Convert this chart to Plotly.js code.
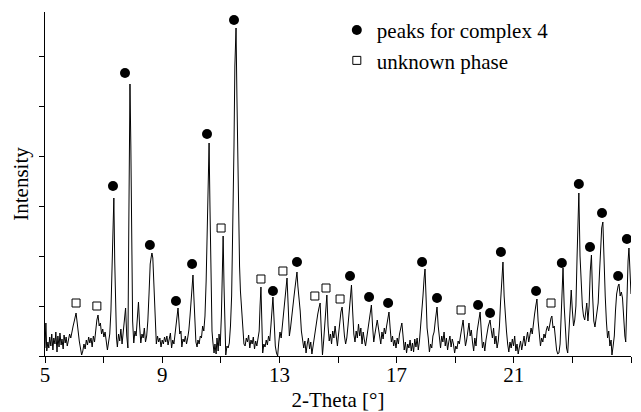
<!DOCTYPE html>
<html>
<head>
<meta charset="utf-8">
<script src="https://cdn.plot.ly/plotly-3.0.1.min.js"></script>
<style>html,body{margin:0;padding:0;background:#fff;}#chart{width:641px;height:412px;}</style>
</head>
<body>
<div id="chart"></div>
<script>
// XRD pattern (2-Theta in degrees, intensity in arbitrary units)
const twoTheta = [
5.00,5.03,5.06,5.10,5.13,5.16,5.20,5.23,5.27,5.30,5.34,5.37,5.41,5.44,5.48,5.51,5.55,5.58,5.62,5.65,5.69,5.72,5.76,5.80,5.84,5.88,5.92,5.96,
6.00,6.03,6.06,6.10,6.13,6.17,6.21,6.25,6.29,6.33,6.37,6.41,6.45,6.49,6.53,6.57,6.61,6.65,6.69,6.73,6.77,6.81,6.85,6.89,6.93,6.97,
7.01,7.05,7.09,7.13,7.17,7.21,7.25,7.29,7.32,7.35,7.38,7.41,7.44,7.47,7.51,7.55,7.59,7.63,7.67,7.71,7.75,7.79,7.83,7.86,7.90,7.93,7.96,7.99,
8.03,8.07,8.11,8.15,8.19,8.23,8.27,8.31,8.35,8.39,8.43,8.47,8.51,8.55,8.59,8.63,8.65,8.68,8.72,8.76,8.80,8.84,8.88,8.92,8.96,
9.00,9.04,9.08,9.12,9.16,9.20,9.24,9.28,9.32,9.36,9.40,9.44,9.48,9.51,9.54,9.57,9.60,9.64,9.67,9.71,9.75,9.79,9.83,9.87,9.91,9.95,9.99,
10.02,10.05,10.08,10.12,10.15,10.19,10.22,10.26,10.30,10.34,10.38,10.42,10.46,10.50,10.54,10.57,10.60,10.63,10.66,10.70,10.73,10.77,10.80,10.84,10.87,10.91,10.94,10.98,
11.02,11.05,11.08,11.11,11.14,11.17,11.21,11.25,11.29,11.33,11.37,11.41,11.45,11.48,11.52,11.55,11.58,11.61,11.64,11.67,11.71,11.75,11.79,11.83,11.87,11.91,11.95,11.99,
12.03,12.07,12.11,12.15,12.19,12.23,12.27,12.31,12.34,12.37,12.40,12.43,12.47,12.51,12.55,12.59,12.63,12.67,12.71,12.75,12.78,12.82,12.86,12.90,12.94,12.98,
13.02,13.06,13.10,13.14,13.18,13.22,13.26,13.30,13.34,13.38,13.42,13.46,13.50,13.54,13.57,13.60,13.63,13.67,13.71,13.75,13.79,13.83,13.87,13.91,13.95,13.99,
14.03,14.07,14.11,14.15,14.19,14.23,14.27,14.31,14.35,14.39,14.43,14.47,14.51,14.55,14.58,14.62,14.66,14.70,14.74,14.78,14.82,14.86,14.90,14.94,14.98,
15.02,15.06,15.10,15.14,15.18,15.22,15.26,15.30,15.34,15.38,15.42,15.46,15.50,15.54,15.58,15.62,15.66,15.70,15.74,15.78,15.82,15.86,15.90,15.94,15.98,
16.02,16.06,16.10,16.14,16.18,16.22,16.26,16.30,16.34,16.38,16.42,16.46,16.50,16.54,16.58,16.62,16.66,16.70,16.74,16.78,16.82,16.86,16.90,16.94,16.98,
17.02,17.06,17.10,17.14,17.18,17.22,17.26,17.30,17.34,17.38,17.42,17.46,17.50,17.54,17.58,17.62,17.66,17.70,17.74,17.78,17.82,17.86,17.90,17.94,17.97,
18.01,18.04,18.08,18.12,18.16,18.20,18.24,18.28,18.32,18.35,18.38,18.42,18.46,18.50,18.54,18.58,18.62,18.66,18.70,18.74,18.78,18.82,18.86,18.90,18.94,18.98,
19.02,19.06,19.10,19.14,19.18,19.22,19.27,19.31,19.35,19.39,19.43,19.47,19.51,19.55,19.59,19.63,19.67,19.71,19.75,19.79,19.85,19.89,19.93,19.97,
20.01,20.05,20.09,20.13,20.16,20.19,20.23,20.27,20.31,20.35,20.39,20.43,20.47,20.51,20.55,20.59,20.63,20.67,20.71,20.75,20.79,20.83,20.87,20.91,20.95,20.99,
21.03,21.07,21.11,21.15,21.19,21.23,21.27,21.31,21.35,21.39,21.43,21.47,21.51,21.55,21.59,21.63,21.67,21.71,21.75,21.79,21.83,21.87,21.91,21.95,21.99,
22.03,22.07,22.11,22.15,22.19,22.23,22.27,22.30,22.34,22.38,22.42,22.46,22.50,22.54,22.58,22.62,22.65,22.68,22.72,22.76,22.80,22.84,22.88,22.92,22.96,
23.00,23.04,23.08,23.12,23.16,23.19,23.22,23.26,23.30,23.34,23.38,23.42,23.46,23.49,23.53,23.57,23.61,23.65,23.69,23.73,23.77,23.81,23.85,23.88,23.92,23.96,
24.00,24.04,24.08,24.12,24.16,24.20,24.24,24.28,24.32,24.35,24.39,24.43,24.47,24.51,24.56,24.59,24.63,24.67,24.71,24.75,24.79,24.82,24.86,24.90,24.93,24.97,25.00
];
const intensity = [
8,33,5,14,8,19,10,22,6,18,12,24,4,20,9,23,11,17,7,21,13,19,10,16,22,18,26,30,
35,40,43,33,24,15,8,1,5,12,7,16,11,19,13,18,9,20,14,28,36,41,30,33,22,27,
19,24,17,6,14,22,45,100,140,158,95,40,18,9,22,15,27,12,24,30,48,20,8,130,272,210,100,35,
13,25,20,38,54,30,13,22,18,28,14,20,35,62,92,100,103,98,70,30,12,20,14,18,9,
16,12,19,14,20,11,17,23,8,16,12,22,30,40,48,35,22,25,9,17,14,20,12,18,26,40,62,
75,81,60,30,14,9,16,12,20,18,30,25,40,75,140,190,213,150,70,25,14,3,12,2,18,5,22,10,
40,90,120,70,20,1,10,8,13,30,60,120,210,290,328,260,190,130,90,65,48,20,12,10,18,14,21,8,
16,12,19,7,15,10,18,25,50,69,35,3,12,9,16,11,20,15,30,50,59,35,10,3,0,14,
24,18,30,45,60,70,78,50,20,28,40,55,60,70,78,84,70,60,45,25,16,8,15,3,12,18,
7,14,2,10,20,30,38,42,48,53,25,1,15,35,50,61,30,15,22,12,25,18,30,20,10,
22,36,44,49,30,20,12,18,30,45,62,71,45,22,14,25,18,32,20,28,12,24,16,10,18,
26,38,46,51,30,14,22,30,36,28,20,12,24,17,28,22,30,38,44,28,14,20,10,16,8,
18,12,22,30,33,20,6,14,3,12,8,16,5,13,4,17,9,18,6,15,28,43,60,78,87,
55,28,18,4,12,8,20,24,35,44,49,30,14,8,20,14,24,10,18,6,14,20,9,17,12,3,
10,7,15,12,20,30,36,22,10,16,28,33,20,26,14,5,18,10,25,35,44,25,8,14,
5,16,25,30,33,36,26,18,28,12,20,8,15,30,55,80,94,60,38,25,12,4,14,8,17,10,
20,5,12,2,9,15,6,13,20,10,18,24,14,20,28,22,35,42,50,57,35,20,10,18,14,
22,18,26,30,25,34,38,40,28,30,18,6,2,3,12,40,70,88,50,20,8,3,25,50,66,
45,30,36,50,100,140,163,100,66,50,40,36,45,53,35,50,85,101,60,35,29,40,48,53,80,110,
128,134,90,60,35,18,25,10,16,1,10,20,45,62,70,72,60,64,58,35,20,14,60,95,108,75,62
];
// marked reflections
const complexPeakX = [7.32,7.73,8.58,9.47,10.02,10.53,11.45,12.78,13.60,15.41,16.06,16.71,17.87,18.38,19.78,20.19,20.56,21.76,22.64,23.22,23.60,24.01,24.56,24.86];
const complexPeakY = [170,283,111,55,92,222,336,65,94,80,59,53,94,58,51,43,104,65,93,172,109,143,80,117];
const unknownPeakX = [6.06,6.77,11.01,12.37,13.12,14.21,14.59,15.07,19.20,22.27];
const unknownPeakY = [53,50,128,77,85,60,68,57,46,53];
// axis ticks
const xTickVals = [5,7,9,11,13,15,17,19,21,23,25];
const xTickText = ['5','','9','','13','','17','','21','','25'];

const serif = '"Liberation Serif", "Times New Roman", serif';

const traces = [
  {x: twoTheta, y: intensity, type: 'scatter', mode: 'lines',
   line: {color: '#000', width: 1}, showlegend: false, hoverinfo: 'skip'},
  {x: complexPeakX, y: complexPeakY, type: 'scatter', mode: 'markers', name: 'peaks for complex 4',
   marker: {symbol: 'circle', size: 10, color: '#000'}},
  {x: unknownPeakX, y: unknownPeakY, type: 'scatter', mode: 'markers', name: 'unknown phase',
   marker: {symbol: 'square-open', size: 8, color: '#000', line: {width: 1, color: '#000'}}}
];

const layout = {
  width: 641, height: 412,
  margin: {l: 45, r: 10, t: 12, b: 56},
  paper_bgcolor: '#fff', plot_bgcolor: '#fff',
  font: {family: serif, size: 21, color: '#000'},
  xaxis: {
    range: [5, 25], tickmode: 'array', tickvals: xTickVals, ticktext: xTickText,
    ticks: 'outside', ticklen: 6, tickcolor: '#000', tickwidth: 1,
    showline: true, linecolor: '#000', linewidth: 1, showgrid: false, zeroline: false,
    tickfont: {family: serif, size: 21, color: '#000'},
    ticklabelstandoff: -6,
    title: {text: '2-Theta [°]', font: {family: serif, size: 21, color: '#000'}},
    automargin: false
  },
  yaxis: {
    range: [0, 344], dtick: 50, tick0: 0, showticklabels: false,
    ticks: 'outside', ticklen: 5, tickcolor: '#000', tickwidth: 1,
    showline: true, linecolor: '#000', linewidth: 1, showgrid: false, zeroline: false,
    title: {text: 'Intensity', font: {family: serif, size: 21, color: '#000'}, standoff: 4},
    automargin: true
  },
  showlegend: true,
  legend: {x: 0.498, y: 1.006, xanchor: 'left', yanchor: 'top', bgcolor: 'rgba(0,0,0,0)',
           font: {family: serif, size: 21, color: '#000'}, borderwidth: 0}
};

Plotly.newPlot('chart', traces, layout, {displayModeBar: false, staticPlot: true});
</script>
</body>
</html>
